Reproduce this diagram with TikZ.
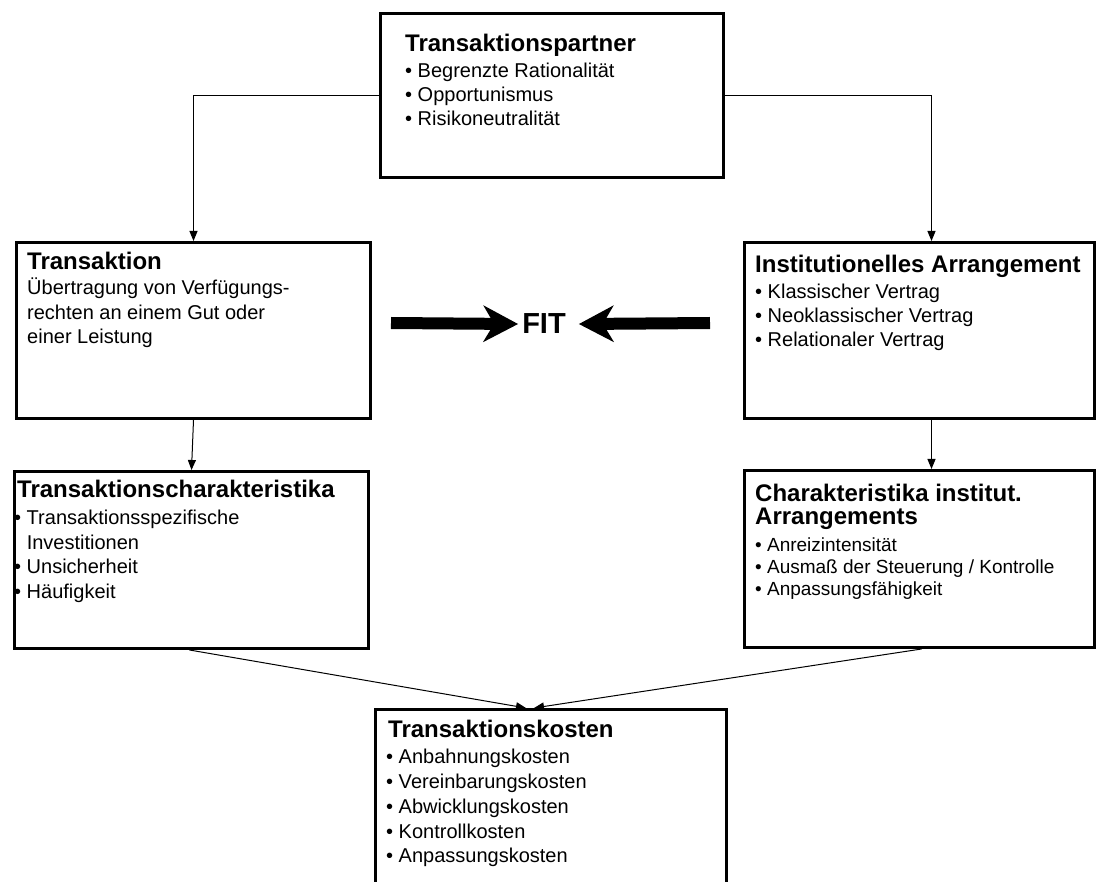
\documentclass[tikz,border=0pt]{standalone}
\usepackage{fontspec}
\setmainfont{Liberation Sans}
\usetikzlibrary{arrows.meta}

\begin{document}
\begin{tikzpicture}[x=1pt,y=-1pt,
  panel/.style={draw, line width=3pt, inner sep=0pt, anchor=north west},
  ttl/.style={font=\fontsize{24}{28}\selectfont\bfseries, inner sep=0pt, anchor=base west},
  txt/.style={font=\fontsize{20}{24}\selectfont, inner sep=0pt, anchor=base west},
  txtsm/.style={font=\fontsize{19}{22}\selectfont, inner sep=0pt, anchor=base west},
  conn/.style={line width=1pt, -{Triangle[length=10pt,width=8pt]}},
  fatarrow/.style={line width=12pt, -{Stealth[length=35pt,width=37pt,inset=11pt,line width=0pt]}}]

\fill[white] (0,0) rectangle (1096,882);
\clip (0,0) rectangle (1096,882);

% boxes
\node[panel, minimum width=343pt, minimum height=164pt] (b1) at (379,12) {};
\node[panel, minimum width=354pt, minimum height=176pt] (b2) at (15,241) {};
\node[panel, minimum width=350pt, minimum height=176pt] (b3) at (743,241) {};
\node[panel, minimum width=354pt, minimum height=177pt] (b4) at (13,470) {};
\node[panel, minimum width=350pt, minimum height=177pt] (b5) at (743,469) {};
\node[panel, minimum width=351pt, minimum height=200pt] (b6) at (374,708) {};

% Transaktionspartner
\node[ttl] (t1) at (405,52) {Transaktionspartner};
\node[txt] (t1a) at (405,78) {• Begrenzte Rationalität};
\node[txt] (t1b) at (405,102) {• Opportunismus};
\node[txt] (t1c) at (405,126) {• Risikoneutralität};

% Transaktion
\node[ttl] (t2) at (27,270) {Transaktion};
\node[txt] (t2a) at (27,295) {Übertragung von Verfügungs-};
\node[txt] (t2b) at (27,320) {rechten an einem Gut oder};
\node[txt] (t2c) at (27,344) {einer Leistung};

% Institutionelles Arrangement
\node[ttl] (t3) at (755,273) {Institutionelles Arrangement};
\node[txt] (t3a) at (755,299) {• Klassischer Vertrag};
\node[txt] (t3b) at (755,323) {• Neoklassischer Vertrag};
\node[txt] (t3c) at (755,347) {• Relationaler Vertrag};

% Transaktionscharakteristika
\node[ttl] (t4) at (17,498) {Transaktionscharakteristika};
\node[txt] (t4a) at (14,525) {• Transaktionsspezifische};
\node[txt] (t4b) at (14,550) {\phantom{• }Investitionen};
\node[txt] (t4c) at (14,573) {• Unsicherheit};
\node[txt] (t4d) at (14,598) {• Häufigkeit};

% Charakteristika institut. Arrangements
\node[ttl] (t5) at (755,502) {Charakteristika institut.};
\node[ttl] (t5x) at (755,525) {Arrangements};
\node[txtsm] (t5a) at (755,551) {• Anreizintensität};
\node[txtsm] (t5b) at (755,573) {• Ausmaß der Steuerung / Kontrolle};
\node[txtsm] (t5c) at (755,595) {• Anpassungsfähigkeit};

% Transaktionskosten
\node[ttl] (t6) at (388,737) {Transaktionskosten};
\node[txt] (t6a) at (386,763) {• Anbahnungskosten};
\node[txt] (t6b) at (386,788) {• Vereinbarungskosten};
\node[txt] (t6c) at (386,813) {• Abwicklungskosten};
\node[txt] (t6d) at (386,838) {• Kontrollkosten};
\node[txt] (t6e) at (386,862) {• Anpassungskosten};

% FIT
\node[font=\fontsize{29}{32}\selectfont\bfseries, inner sep=0pt, anchor=base] (fit) at (544,334) {FIT};
\coordinate (fl) at (391,323);
\coordinate (fr) at (710,323);
\draw[fatarrow] (fl) -- ([xshift=-4pt]fit.west);
\draw[fatarrow] (fr) -- ([xshift=13pt]fit.east);

% connectors
\draw[conn] (b1.west) -| (b2.north);
\draw[conn] (b1.east) -| ([xshift=12pt]b3.north);
\draw[conn] (b2.south) -- (b4.north);
\draw[conn] ([xshift=12pt]b3.south) -- ([xshift=12pt]b5.north);
\draw[conn] ([xshift=-2pt]b4.south) -- ([xshift=-25pt]b6.north);
\draw[conn] ([xshift=2pt]b5.south) -- ([xshift=-17pt]b6.north);

\end{tikzpicture}
\end{document}
